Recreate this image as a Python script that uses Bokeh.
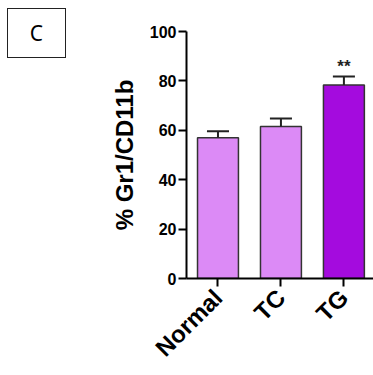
import math
from bokeh.plotting import figure
from bokeh.models import Range1d, FixedTicker, Div
from bokeh.layouts import row
from bokeh.embed import file_html
from bokeh.resources import INLINE

groups = ["Normal", "TC", "TG"]
means = [57.0, 61.5, 78.3]
errs = [2.6, 3.3, 3.5]
colors = ["#DC8AF6", "#DC8AF6", "#A40BDE"]
sig = ["", "", "**"]
y_ticks = [0, 20, 40, 60, 80, 100]
panel_label = "C"

xs = list(range(len(groups)))
bar_w = 0.65
cap_hw = 0.175

left_w = 70
p = figure(width=373 - left_w, height=375, output_backend="svg", toolbar_location=None,
           x_range=Range1d(-0.5, 2.47), y_range=Range1d(0, 100),
           min_border_left=186 - left_w, min_border_right=0, min_border_top=31, min_border_bottom=97)
p.margin = 0
p.outline_line_color = None
p.xgrid.visible = False
p.ygrid.visible = False
p.background_fill_color = "white"
p.border_fill_color = "white"

p.vbar(x=xs, top=means, width=bar_w, fill_color=colors, line_color="#333333", line_width=1.5)
tops = [m + e for m, e in zip(means, errs)]
p.segment(x0=xs, y0=means, x1=xs, y1=tops, line_color="#222222", line_width=2)
p.segment(x0=[x - cap_hw for x in xs], y0=tops, x1=[x + cap_hw for x in xs], y1=tops,
          line_color="#222222", line_width=2)
p.text(x=xs, y=[t + 4 for t in tops], text=sig, text_align="center", text_baseline="alphabetic",
       text_font_size="17px", text_font_style="bold", text_color="#222222")

for ax in (p.xaxis[0], p.yaxis[0]):
    ax.axis_line_width = 2
    ax.axis_line_color = "black"
    ax.major_tick_line_width = 2
    ax.major_tick_line_color = "black"
    ax.major_tick_in = 0
    ax.major_tick_out = 8
    ax.minor_tick_line_color = None
    ax.major_label_text_font = "Liberation Sans"
    ax.major_label_text_font_style = "bold"
    ax.major_label_text_color = "black"

p.yaxis.ticker = FixedTicker(ticks=y_ticks)
p.yaxis.major_label_text_font_size = "16px"
p.yaxis.major_label_standoff = 2
p.yaxis.axis_label = "% Gr1/CD11b"
p.yaxis.axis_label_text_font = "Liberation Sans"
p.yaxis.axis_label_text_font_style = "bold"
p.yaxis.axis_label_text_font_size = "24px"
p.yaxis.axis_label_text_color = "black"
p.yaxis.axis_label_standoff = 9

p.xaxis.ticker = FixedTicker(ticks=xs)
p.xaxis.major_label_overrides = {i: g for i, g in enumerate(groups)}
p.xaxis.major_label_orientation = math.pi / 4
p.xaxis.major_label_text_font_size = "24px"
p.xaxis.major_label_standoff = 7

box = Div(text=('<div style="box-sizing:border-box; margin-left:7px; margin-top:8px; '
                'width:59px; height:50px; border:1.5px solid #222; display:flex; '
                'align-items:center; justify-content:center; font-family:\'Noto Sans\'; '
                'font-size:21px; color:black; line-height:1;">' + panel_label + '</div>'),
          width=left_w, height=375, margin=0)

layout = row(box, p, spacing=0)
open("out.html", "w").write(file_html(layout, INLINE))
